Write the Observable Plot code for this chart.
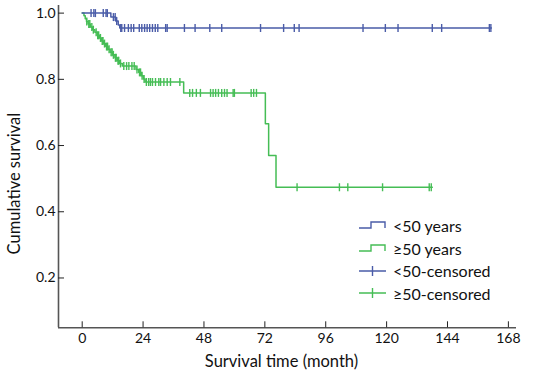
<!DOCTYPE html>
<html>
<head>
<meta charset="utf-8">
<script src="https://cdn.jsdelivr.net/npm/d3@7"></script>
<script src="https://cdn.jsdelivr.net/npm/@observablehq/plot@0.6"></script>
<style>
  body { margin: 0; background: #fff; }
  #wrap { position: relative; width: 533px; height: 377px; font-family: Lato, "Open Sans", sans-serif; }
  #legend { position: absolute; left: 358px; top: 214px; font-size: 16px; color: #111; }
  .row { display: flex; align-items: center; height: 22.7px; }
  .row svg { width: 30px; height: 14px; margin-right: 5px; overflow: visible; }
</style>
</head>
<body>
<div id="wrap"></div>
<script>
// ---- data ----
const blueStepT = [0, 11.3, 13.2, 14.2, 14.8, 161.3];
const blueStepS = [1.0, 0.988, 0.976, 0.964, 0.955, 0.955];
const blueCensor = [3.5, 4.6, 5.2, 8.3, 9.4, 9.9, 12.3, 13.0, 13.6, 15.2, 15.6, 16.7, 18.2, 19.3, 20.3, 22.5, 23.5, 24.6, 25.6, 26.6, 27.7, 28.8, 29.8, 32.9, 33.5, 40.3, 44.5, 50.3, 55.0, 70.3, 79.4, 83.6, 85.5, 110.7, 119.5, 124.5, 138.0, 141.7, 160.5, 161.1];

const greenStepT = [0, 0.7, 1.2, 1.7, 2.3, 3.2, 4.1, 5.0, 5.9, 6.8, 7.6, 8.5, 9.3, 10.2, 11.0, 12.0, 12.9, 13.8, 14.8, 15.8, 21.2, 22.3, 23.3, 24.1, 24.8, 40.0, 72.2, 73.5, 76.4, 138.0];
const greenStepS = [1.0, 0.992, 0.983, 0.975, 0.967, 0.958, 0.950, 0.942, 0.933, 0.925, 0.916, 0.908, 0.899, 0.891, 0.882, 0.874, 0.865, 0.856, 0.848, 0.840, 0.830, 0.821, 0.811, 0.801, 0.792, 0.759, 0.666, 0.570, 0.474, 0.474];
const greenCensor = [1.8, 2.6, 3.0, 3.8, 4.4, 5.5, 6.1, 6.5, 7.2, 7.9, 8.2, 8.8, 9.6, 10.0, 10.6, 11.4, 11.8, 12.3, 13.1, 13.4, 14.1, 14.4, 15.1, 16.4, 17.5, 18.4, 19.6, 20.5, 21.6, 22.6, 23.0, 23.6, 24.4, 25.3, 26.2, 26.9, 27.7, 28.9, 30.2, 30.9, 32.2, 33.5, 34.8, 38.5, 42.4, 43.5, 45.0, 46.6, 50.6, 51.6, 52.6, 53.7, 55.0, 56.1, 57.1, 59.5, 60.0, 66.6, 67.6, 68.7, 84.7, 101.4, 104.7, 118.4, 136.8, 137.6];

const xTicks = [0, 24, 48, 72, 96, 120, 144, 168];
const yTicks = [0.2, 0.4, 0.6, 0.8, 1.0];
const xDomain = [-9.34, 171.2];
const yDomain = [0.0495, 1.023];
const seriesNames = ["<50 years", "≥50 years", "<50-censored", "≥50-censored"];
const blue = "#4a5ca8";
const green = "#45bd55";
const axisColor = "#555";

// ---- build ----
const stepAt = (T, S, t) => { let s = S[0]; for (let i = 0; i < T.length; i++) if (T[i] <= t) s = S[i]; return s; };
const blueLine = blueStepT.map((t, i) => ({t, s: blueStepS[i]}));
const greenLine = greenStepT.map((t, i) => ({t, s: greenStepS[i]}));
const blueC = blueCensor.map(t => ({t, s: stepAt(blueStepT, blueStepS, t)}));
const greenC = greenCensor.map(t => ({t, s: stepAt(greenStepT, greenStepS, t)}));

const vbar = { draw(ctx) { ctx.moveTo(0, -4); ctx.lineTo(0, 4); } };

const chart = Plot.plot({
  width: 533,
  height: 377,
  marginLeft: 58,
  marginRight: 17,
  marginTop: 5,
  marginBottom: 49.7,
  style: { fontFamily: "Lato, 'Open Sans', sans-serif", fontSize: "14px", color: "#111", background: "#fff" },
  x: { domain: xDomain, label: null },
  y: { domain: yDomain, label: null },
  marks: [
    Plot.line(greenLine, { x: "t", y: "s", curve: "step-after", stroke: green, strokeWidth: 1.5 }),
    Plot.line(blueLine, { x: "t", y: "s", curve: "step-after", stroke: blue, strokeWidth: 1.5 }),
    Plot.dot(greenC, { x: "t", y: "s", symbol: vbar, stroke: green, strokeWidth: 1.4, fill: "none" }),
    Plot.dot(blueC, { x: "t", y: "s", symbol: vbar, stroke: blue, strokeWidth: 1.4, fill: "none" }),
    Plot.ruleX([xDomain[0]], { stroke: axisColor, strokeWidth: 1.6 }),
    Plot.ruleY([yDomain[0]], { stroke: axisColor, strokeWidth: 1.6 }),
    Plot.axisX({ ticks: xTicks, tickSize: 6, dy: -6, tickFormat: () => "", stroke: "#222", label: null }),
    Plot.axisX({ ticks: xTicks, tickSize: 0, tickPadding: 5, label: null, fontSize: 14 }),
    Plot.axisY({ ticks: yTicks, tickSize: 6, dx: 6, tickFormat: () => "", stroke: "#222", label: null }),
    Plot.axisY({ ticks: yTicks, tickSize: 0, tickPadding: 3, tickFormat: d3.format(".1f"), label: null, fontSize: 14 }),
    Plot.text(["Survival time (month)"], { frameAnchor: "bottom", textAnchor: "middle", dy: 34, dx: -6, fontSize: 16.5, lineAnchor: "middle" }),
    Plot.text(["Cumulative survival"], { frameAnchor: "left", textAnchor: "middle", lineAnchor: "middle", rotate: -90, dx: -44, dy: 17, fontSize: 16.5 })
  ]
});

const wrap = document.getElementById("wrap");
wrap.appendChild(chart);

// legend
const leg = document.createElement("div");
leg.id = "legend";
const icons = [
  `<svg viewBox="0 0 30 14"><path d="M1,10 H13 V4 H27 V10" fill="none" stroke="${blue}" stroke-width="1.4"/></svg>`,
  `<svg viewBox="0 0 30 14"><path d="M1,10 H13 V4 H27 V10" fill="none" stroke="${green}" stroke-width="1.4"/></svg>`,
  `<svg viewBox="0 0 30 14"><path d="M1,7 H28 M14.5,2 V12" fill="none" stroke="${blue}" stroke-width="1.4"/></svg>`,
  `<svg viewBox="0 0 30 14"><path d="M1,7 H28 M14.5,2 V12" fill="none" stroke="${green}" stroke-width="1.4"/></svg>`
];
leg.innerHTML = seriesNames.map((n, i) => `<div class="row">${icons[i]}<span>${n}</span></div>`).join("");
wrap.appendChild(leg);
</script>
</body>
</html>
